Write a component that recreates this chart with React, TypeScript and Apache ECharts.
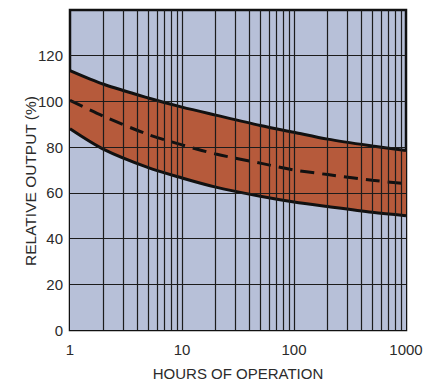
import React, { useEffect, useRef } from "react";
import * as echarts from "echarts";

const hours = [1, 2, 5, 10, 20, 50, 100, 200, 500, 1000];
const upperValues = [113.5, 107.5, 101.5, 97.5, 94, 89.5, 86.5, 83.5, 80.5, 78.5];
const centerValues = [100.5, 93.5, 85.5, 81, 77, 73, 70, 68, 65.5, 64];
const lowerValues = [88, 79, 71, 66.5, 62.5, 58.5, 56, 54, 51.5, 50];

const xTickLabels = [1, 10, 100, 1000];
const yTickLabels = [0, 20, 40, 60, 80, 100, 120];
const verticalGridValues = [
  2, 3, 4, 5, 6, 7, 8, 9, 10,
  20, 30, 40, 50, 60, 70, 80, 90, 100,
  200, 300, 400, 500, 600, 700, 800, 900,
];
const horizontalGridValues = [20, 40, 60, 80, 100, 120];

const xTitle = "HOURS OF OPERATION";
const yTitle = "RELATIVE OUTPUT (%)";

const FONT = "'Liberation Sans', Arial, Helvetica, sans-serif";
const TEXT_COLOR = "#2b2b2b";
const GRID_COLOR = "#1c1c1c";
const BAND_COLOR = "#b65a3b";
const BG_COLOR = "#b7c0d8";

export default function App() {
  const ref = useRef<HTMLDivElement>(null);

  useEffect(() => {
    if (!ref.current) return;
    const chart = echarts.init(ref.current, undefined, { renderer: "svg" });

    const pairs = (vals: number[]) => hours.map((h, i) => [h, vals[i]]);
    const curve = {
      type: "line",
      smooth: 0.3,
      showSymbol: false,
      silent: true,
    };

    chart.setOption({
      animation: false,
      backgroundColor: "#ffffff",
      grid: {
        left: 70,
        right: 28,
        top: 10,
        bottom: 53,
        outerBoundsMode: "none",
        containLabel: false,
        show: true,
        backgroundColor: BG_COLOR,
        borderColor: "#111",
        borderWidth: 2.5,
      },
      xAxis: {
        type: "log",
        logBase: 10,
        min: 1,
        max: 1000,
        name: xTitle,
        nameLocation: "middle",
        nameGap: 36,
        nameTextStyle: { fontFamily: FONT, fontSize: 15, color: TEXT_COLOR },
        axisLine: { show: false },
        axisTick: { show: false },
        splitLine: { show: false },
        minorSplitLine: { show: false },
        axisLabel: {
          margin: 12,
          fontFamily: FONT,
          fontSize: 15,
          color: TEXT_COLOR,
          formatter: (v: number) =>
            xTickLabels.some((t) => Math.abs(t - v) < 1e-6) ? String(v) : "",
        },
      },
      yAxis: {
        type: "value",
        min: 0,
        max: 140,
        interval: 20,
        axisLine: { show: false },
        axisTick: { show: false },
        splitLine: { show: false },
        axisLabel: {
          margin: 7,
          fontFamily: FONT,
          fontSize: 15,
          color: TEXT_COLOR,
          formatter: (v: number) => (yTickLabels.includes(v) ? String(v) : ""),
        },
      },
      graphic: [
        {
          type: "text",
          x: 30,
          y: 181,
          rotation: Math.PI / 2,
          style: {
            text: yTitle,
            fontFamily: FONT,
            fontSize: 15.5,
            fill: TEXT_COLOR,
            align: "center",
            verticalAlign: "middle",
          },
        },
      ],
      series: [
        {
          ...curve,
          name: "bandFill",
          data: pairs(upperValues),
          lineStyle: { opacity: 0 },
          areaStyle: { color: BAND_COLOR, opacity: 1 },
          z: 1,
        },
        {
          ...curve,
          name: "bandCut",
          data: pairs(lowerValues),
          lineStyle: { opacity: 0 },
          areaStyle: { color: BG_COLOR, opacity: 1 },
          z: 2,
        },
        {
          name: "grid",
          type: "line",
          data: [],
          silent: true,
          z: 3,
          markLine: {
            silent: true,
            symbol: "none",
            label: { show: false },
            animation: false,
            lineStyle: { color: GRID_COLOR, width: 1.2, type: "solid" },
            data: [
              ...verticalGridValues.map((v) => ({ xAxis: v })),
              ...horizontalGridValues.map((v) => ({ yAxis: v })),
            ],
          },
        },
        {
          ...curve,
          name: "upper",
          data: pairs(upperValues),
          lineStyle: { color: "#111", width: 3 },
          z: 4,
        },
        {
          ...curve,
          name: "lower",
          data: pairs(lowerValues),
          lineStyle: { color: "#111", width: 3 },
          z: 4,
        },
        {
          ...curve,
          name: "center",
          data: pairs(centerValues),
          lineStyle: { color: "#111", width: 3, type: [14, 8] },
          z: 4,
        },
      ],
    });

    return () => chart.dispose();
  }, []);

  return (
    <div
      ref={ref}
      style={{ position: "fixed", left: 0, top: 0, width: 434, height: 383 }}
    />
  );
}
